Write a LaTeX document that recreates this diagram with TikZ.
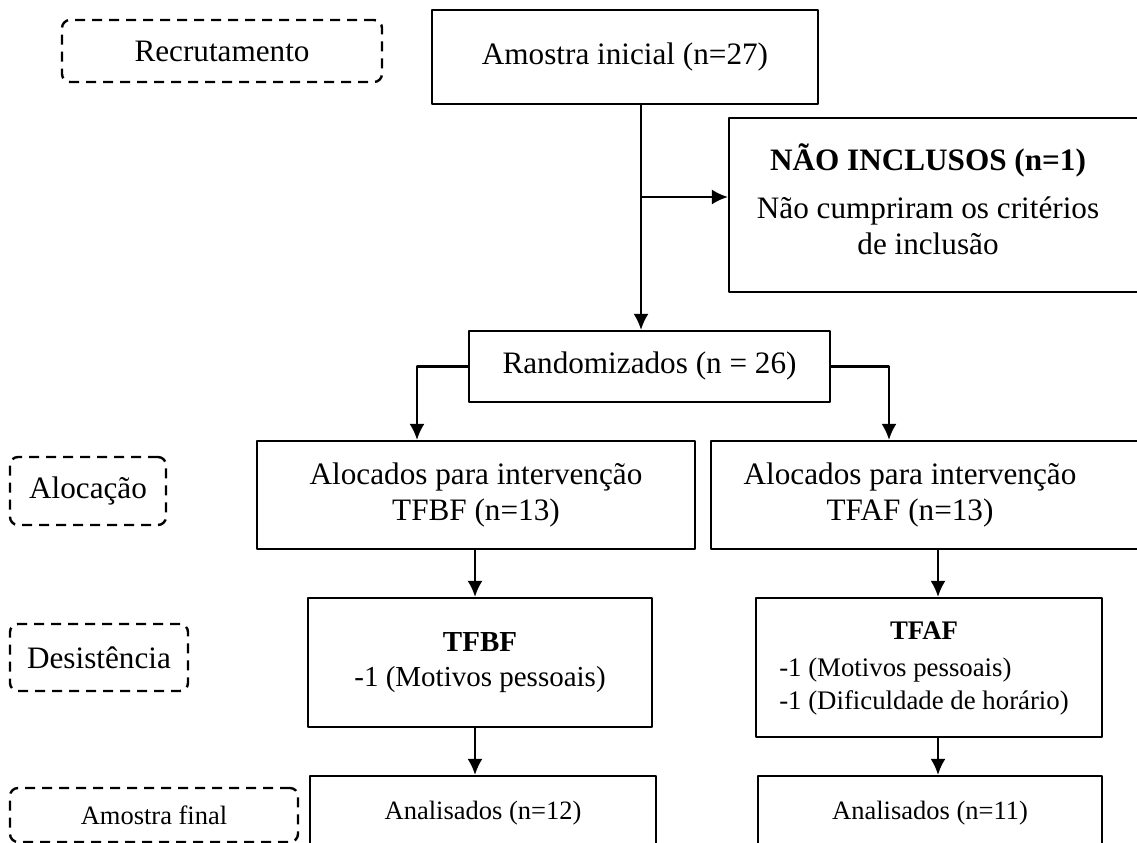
\documentclass[tikz,border=0pt]{standalone}
\usepackage{fontspec}
\setmainfont{Liberation Serif}
\usetikzlibrary{arrows.meta}
\begin{document}
\begin{tikzpicture}[>={Latex[length=8bp,width=7.5bp]},line join=bevel,
  caixa/.style={draw,line width=1.1bp,inner sep=0pt,align=center,font=\fontsize{15.6bp}{18bp}\selectfont},
  etapa/.style={draw,line width=1.2bp,dash pattern=on 5bp off 3.5bp,rounded corners=4bp,inner sep=0pt,font=\fontsize{15.6bp}{18bp}\selectfont},
  seta/.style={->,line width=1.1bp}]
%%
\useasboundingbox (0bp,0bp) rectangle (568.5bp,421.5bp);
\clip (0bp,0bp) rectangle (568.5bp,421.5bp);
%% etapas
\node (node_recrutamento) at (111bp,396bp) [etapa,minimum width=160bp,minimum height=31bp] {Recrutamento};
  \node (node_alocacao) at (44bp,176bp) [etapa,minimum width=78bp,minimum height=34bp] {Alocação};
  \node (node_desistencia) at (49.5bp,92.75bp) [etapa,minimum width=89bp,minimum height=33.5bp] {Desistência};
  \node (node_final) at (77bp,14bp) [etapa,minimum width=144bp,minimum height=27bp,font=\fontsize{13.25bp}{16bp}\selectfont] {Amostra final};
%% fluxo
\node (node_inicial) at (312.5bp,393bp) [caixa,minimum width=193bp,minimum height=47bp] {Amostra inicial (n=27)};
  \node (node_naoincl) at (469.75bp,319bp) [caixa,minimum width=210.5bp,minimum height=87bp] {\begin{tabular}{@{}c@{}}\textbf{NÃO INCLUSOS (n=1)}\\[6bp] Não cumpriram os critérios\\ de inclusão\end{tabular}\hspace*{11.5bp}};
  \node (node_rand) at (324.75bp,238.25bp) [caixa,minimum width=180.5bp,minimum height=35.5bp] {Randomizados (n = 26)};
  \node (node_alocBF) at (238bp,174bp) [caixa,minimum width=219bp,minimum height=54bp] {Alocados para intervenção\\ TFBF (n=13)};
  \node (node_alocAF) at (465.25bp,174bp) [caixa,minimum width=219.5bp,minimum height=54bp] {\begin{tabular}{@{}c@{}}Alocados para intervenção\\ TFAF (n=13)\end{tabular}\hspace*{20.5bp}};
  \node (node_desBF) at (240bp,90.25bp) [caixa,minimum width=172bp,minimum height=64.5bp,font=\fontsize{14.5bp}{17.5bp}\selectfont] {\textbf{TFBF}\\ -1 (Motivos pessoais)};
  \node (node_desAF) at (464.5bp,87.75bp) [caixa,minimum width=173bp,minimum height=69.5bp,font=\fontsize{13.4bp}{16.5bp}\selectfont] {\begin{tabular}{@{}l@{}}\multicolumn{1}{@{}c@{}}{\textbf{TFAF}}\\[2bp] -1 (Motivos pessoais)\\ -1 (Dificuldade de horário)\end{tabular}\hspace*{5bp}};
  \node (node_finBF) at (241.5bp,15bp) [caixa,minimum width=173bp,minimum height=37bp,font=\fontsize{13.25bp}{16bp}\selectfont] {Analisados (n=12)};
  \node (node_finAF) at (465bp,15bp) [caixa,minimum width=172bp,minimum height=37bp,font=\fontsize{13.25bp}{16bp}\selectfont] {Analisados (n=11)};
%% setas
\coordinate (tronco) at (320.5bp,323bp);
  \coordinate (ramoBF) at (208.5bp,0bp);
  \coordinate (ramoAF) at (444.5bp,0bp);
  \coordinate (colBF) at (237.5bp,0bp);
  \coordinate (colAF) at (469bp,0bp);
  \draw [seta] (node_inicial.south -| tronco) -- (node_rand.north -| tronco);
  \draw [seta] (tronco) -- (tronco -| node_naoincl.west);
  \draw [seta] (node_rand.west) -| (ramoBF |- node_alocBF.north);
  \draw [seta] (node_rand.east) -| (ramoAF |- node_alocAF.north);
  \draw [seta] (colBF |- node_alocBF.south) -- (colBF |- node_desBF.north);
  \draw [seta] (colAF |- node_alocAF.south) -- (colAF |- node_desAF.north);
  \draw [seta] (colBF |- node_desBF.south) -- (colBF |- node_finBF.north);
  \draw [seta] (colAF |- node_desAF.south) -- (colAF |- node_finAF.north);
%
\end{tikzpicture}
\end{document}
